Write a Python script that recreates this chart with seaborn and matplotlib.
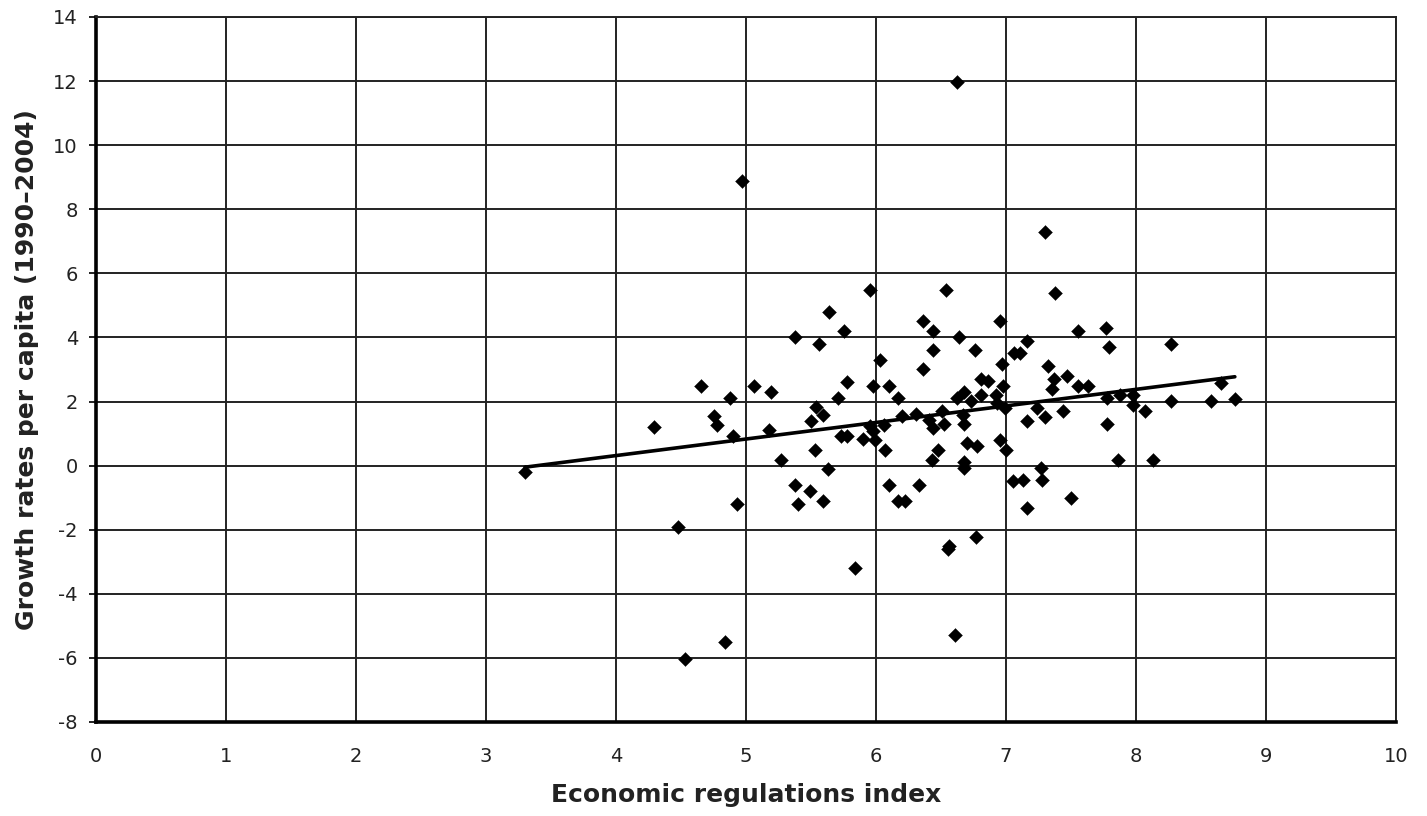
import numpy as np
import pandas as pd
import matplotlib
matplotlib.use("Agg")
import matplotlib.pyplot as plt
import seaborn as sns

# Economic regulations index per country
reg_index = [
    3.30, 4.29, 4.48, 4.53, 4.65, 4.75, 4.78, 4.84, 4.88, 4.90,
    4.93, 4.97, 5.06, 5.18, 5.19, 5.27, 5.38, 5.38, 5.40, 5.49,
    5.50, 5.53, 5.54, 5.56, 5.59, 5.59, 5.63, 5.64, 5.71, 5.73,
    5.75, 5.78, 5.78, 5.84, 5.90, 5.95, 5.95, 5.98, 5.98, 5.99,
    6.03, 6.06, 6.07, 6.10, 6.10, 6.17, 6.17, 6.20, 6.22, 6.31,
    6.33, 6.36, 6.36, 6.41, 6.43, 6.44, 6.44, 6.44, 6.48, 6.51,
    6.52, 6.54, 6.55, 6.56, 6.61, 6.62, 6.62, 6.64, 6.67, 6.68,
    6.68, 6.68, 6.68, 6.70, 6.73, 6.76, 6.77, 6.78, 6.81, 6.81,
    6.86, 6.92, 6.93, 6.95, 6.95, 6.97, 6.98, 6.99, 7.00, 7.05,
    7.06, 7.11, 7.13, 7.16, 7.16, 7.16, 7.24, 7.27, 7.28, 7.30,
    7.30, 7.32, 7.35, 7.37, 7.38, 7.44, 7.47, 7.50, 7.55, 7.55,
    7.63, 7.77, 7.78, 7.78, 7.79, 7.86, 7.88, 7.98, 7.98, 8.07,
    8.13, 8.27, 8.27, 8.58, 8.65, 8.76,
]

# Growth rates per capita, 1990-2004 (%)
growth = [
    -0.20, 1.20, -1.90, -6.02, 2.47, 1.54, 1.28, -5.51, 2.11, 0.91,
    -1.20, 8.89, 2.47, 1.10, 2.30, 0.19, 4.00, -0.61, -1.20, -0.80,
    1.40, 0.50, 1.82, 3.80, 1.59, -1.09, -0.10, 4.79, 2.11, 0.91,
    4.19, 2.60, 0.91, -3.21, 0.83, 5.49, 1.23, 2.47, 1.07, 0.79,
    3.29, 1.28, 0.50, 2.47, -0.60, 2.11, -1.09, 1.54, -1.09, 1.61,
    -0.59, 4.50, 3.00, 1.43, 0.19, 4.19, 3.60, 1.18, 0.50, 1.72,
    1.30, 5.49, -2.60, -2.50, -5.30, 11.98, 2.11, 4.00, 1.59, 2.30,
    1.30, 0.10, -0.07, 0.71, 2.01, 3.60, -2.23, 0.60, 2.71, 2.19,
    2.63, 2.21, 1.96, 4.50, 0.81, 3.17, 2.47, 1.80, 0.50, -0.49,
    3.52, 3.52, -0.44, 3.88, 1.40, -1.32, 1.80, -0.07, -0.44, 7.30,
    1.51, 3.10, 2.39, 2.70, 5.39, 1.72, 2.81, -1.01, 4.19, 2.50,
    2.50, 4.30, 2.11, 1.30, 3.69, 0.19, 2.21, 2.21, 1.90, 1.72,
    0.19, 3.80, 2.01, 2.01, 2.58, 2.09,
]

x_ticks = list(range(0, 11))
y_ticks = list(range(-8, 15, 2))

df = pd.DataFrame({"reg": reg_index, "growth": growth})

sns.set_style("white")
plt.rcParams["font.family"] = ["DejaVu Sans"]
plt.rcParams["axes.unicode_minus"] = False

fig = plt.figure(figsize=(14.27, 8.16), dpi=100)
ax = fig.add_axes([0.0673, 0.1152, 0.9110, 0.8640])

# Least-squares trend line over the data range
sns.regplot(data=df, x="reg", y="growth", ax=ax, scatter=False, ci=None,
            truncate=True, line_kws={"color": "black", "lw": 2.6})

sns.scatterplot(data=df, x="reg", y="growth", ax=ax, marker="D", s=50,
                color="black", edgecolor="black", linewidth=0.3, zorder=3)

ax.set_xlim(0, 10)
ax.set_ylim(-8, 14)
ax.set_xticks(x_ticks)
ax.set_yticks(y_ticks)
ax.grid(True, color="#222222", linewidth=1.4)
ax.set_axisbelow(True)

for side in ["top", "right"]:
    ax.spines[side].set_color("#222222")
    ax.spines[side].set_linewidth(1.4)
for side in ["left", "bottom"]:
    ax.spines[side].set_color("black")
    ax.spines[side].set_linewidth(2.6)

ax.tick_params(axis="y", which="major", left=True, length=5, width=1.4,
               color="#222222", pad=8, labelsize=14, labelcolor="#222222")
ax.tick_params(axis="x", which="major", bottom=False, length=0, pad=18,
               labelsize=14, labelcolor="#222222")

ax.set_xlabel("Economic regulations index", fontsize=18, fontweight="bold",
              color="#222222", labelpad=12)
ax.set_ylabel("Growth rates per capita (1990\u20132004)", fontsize=18,
              fontweight="bold", color="#222222", labelpad=10)

fig.savefig("out.png", dpi=100)
